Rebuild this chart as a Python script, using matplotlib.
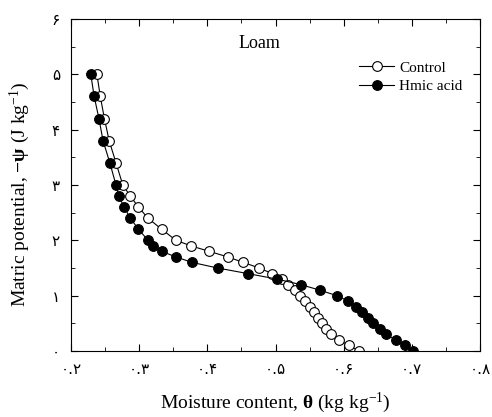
import matplotlib.pyplot as plt
from matplotlib.ticker import MultipleLocator, FuncFormatter

plt.rcParams['font.family'] = ['Liberation Serif', 'DejaVu Sans']
plt.rcParams['mathtext.fontset'] = 'custom'
plt.rcParams['mathtext.rm'] = 'Liberation Serif'
plt.rcParams['mathtext.bf'] = 'Liberation Serif:bold'
plt.rcParams['mathtext.it'] = 'Liberation Serif:italic'

# matric potential (J/kg), same steps for both series
psi = [5.0, 4.6, 4.2, 3.8, 3.4, 3.0, 2.8, 2.6, 2.4, 2.2, 2.0, 1.9, 1.8, 1.7, 1.6,
       1.5, 1.4, 1.3, 1.2, 1.1, 1.0, 0.9, 0.8, 0.7, 0.6, 0.5, 0.4, 0.3, 0.2, 0.1, 0.0]

theta_control = [0.238, 0.243, 0.249, 0.256, 0.266, 0.276, 0.287, 0.299, 0.313, 0.333,
                 0.354, 0.376, 0.403, 0.430, 0.453, 0.476, 0.495, 0.510, 0.519, 0.528,
                 0.536, 0.544, 0.550, 0.557, 0.562, 0.568, 0.574, 0.582, 0.593, 0.608, 0.623]

theta_humic = [0.229, 0.234, 0.241, 0.247, 0.257, 0.266, 0.270, 0.278, 0.287, 0.299,
               0.313, 0.321, 0.333, 0.354, 0.378, 0.415, 0.459, 0.502, 0.537, 0.565,
               0.590, 0.607, 0.618, 0.627, 0.635, 0.643, 0.653, 0.662, 0.677, 0.690, 0.702]

fa_digits = '۰۱۲۳۴۵۶۷۸۹'


def to_fa(v, pos):
    s = ('%.1f' % v) if abs(v - round(v)) > 1e-9 else str(int(round(v)))
    return ''.join(fa_digits[int(c)] if c.isdigit() else c for c in s)


fig = plt.figure(figsize=(4.92, 4.17), dpi=100)
ax = fig.add_axes([71 / 492, 1 - 351 / 417, 409 / 492, 332 / 417])

ax.plot(theta_control, psi, '-o', color='black', mfc='white', mec='black',
        ms=7, lw=0.8, mew=0.8, label='Control')
ax.plot(theta_humic, psi, '-o', color='black', mfc='black', mec='black',
        ms=7, lw=0.8, mew=0.8, label='Hmic acid')

ax.set_xlim(0.2, 0.8)
ax.set_ylim(0, 6)
ax.xaxis.set_major_locator(MultipleLocator(0.1))
ax.xaxis.set_minor_locator(MultipleLocator(0.05))
ax.yaxis.set_major_locator(MultipleLocator(1))
ax.yaxis.set_minor_locator(MultipleLocator(0.5))
ax.xaxis.set_major_formatter(FuncFormatter(to_fa))
ax.yaxis.set_major_formatter(FuncFormatter(to_fa))
ax.tick_params(which='both', direction='in', top=True, right=True)
ax.tick_params(which='major', length=5, labelsize=11, pad=8)
ax.tick_params(which='minor', length=3)
for lbl in ax.get_xticklabels() + ax.get_yticklabels():
    lbl.set_family('DejaVu Sans')

ax.set_xlabel(r'Moisture content, $\mathbf{\theta}$ (kg kg$^{-1}$)', fontsize=14, labelpad=10)
ax.set_ylabel(r'Matric potential, $\mathbf{-\psi}$ (J kg$^{-1}$)', fontsize=14)
ax.yaxis.set_label_coords(-0.095, 0.473)

ax.text(0.477, 5.55, 'Loam', fontsize=13, ha='center', va='center')
ax.legend(loc='upper right', bbox_to_anchor=(0.99, 0.915), frameon=False,
          fontsize=11, handlelength=2.3, handletextpad=0.3, labelspacing=0.3)

fig.savefig('out.png', dpi=100)
